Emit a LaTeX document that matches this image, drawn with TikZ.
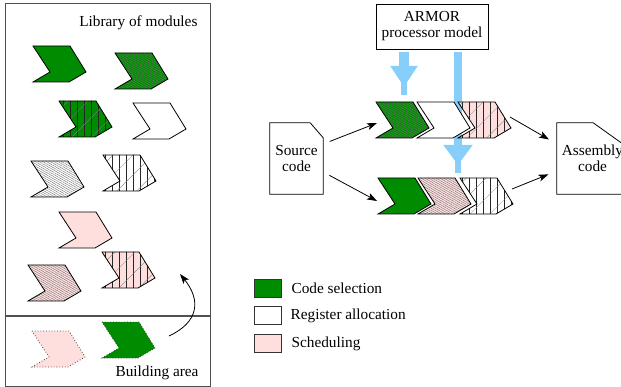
\documentclass[tikz,border=0pt]{standalone}
\usepackage{fontspec}
\setmainfont{Liberation Serif}
\usetikzlibrary{arrows.meta,patterns.meta,positioning}

\definecolor{modgreen}{RGB}{0,140,0}
\definecolor{modpink}{RGB}{255,222,222}
\definecolor{armorblue}{RGB}{135,206,250}
\definecolor{framegray}{RGB}{80,80,80}

\tikzset{
	chevpath/.style={insert path={-- ++(37,0) -- ++(16,26) -- ++(-17,10) -- ++(-36,0) -- ++(17,-10) -- cycle}},
	module/.style={draw=black, line width=0.8pt},
	ghost/.style={draw=black!75, line width=0.8pt, dotted},
	cs/.style={preaction={fill=modgreen}},
	ra/.style={preaction={fill=white}},
	sc/.style={preaction={fill=modpink}},
	fine/.style={preaction={pattern={Lines[angle=-30,distance=1.9pt,line width=0.4pt]}, pattern color=black!55}},
	vert/.style={preaction={pattern={Lines[angle=90,distance=7pt,line width=0.4pt]}, pattern color=black!85},
		preaction={pattern={Lines[angle=45,distance=14pt,line width=0.3pt]}, pattern color=black!50}},
	flow/.style={-{Stealth[length=10pt,width=7pt,inset=2.5pt]}, line width=0.8pt},
	bluestub/.style={draw=armorblue, line width=6pt, shorten <=3pt},
	bluedrop/.style={draw=armorblue, shorten <=3pt},
	box/.style={draw, line width=0.8pt, minimum width=112pt, minimum height=45pt, align=center, inner sep=0pt},
	doc/.style={minimum height=71pt, align=center, inner sep=0pt},
	legbox/.style={draw=black!80, line width=0.8pt, minimum width=27pt, minimum height=18pt, inner sep=0pt},
	frame/.style={draw=framegray, line width=0.8pt}
}

\begin{document}
\begin{tikzpicture}[x=1pt, y=-1pt, font=\fontsize{15.3pt}{16pt}\selectfont]
	\useasboundingbox (0,0) rectangle (621,387);

	% library and building area
	\draw[frame] (5,3) rectangle (210,316);
	\draw[frame] (5,316) rectangle (210,386);
	\draw[framegray, line width=2pt] (5,316) -- (210,316);
	\node[anchor=base east] (libtitle) at (201,27) {Library of modules};
	\node[anchor=base east] (bldtitle) at (202,376) {Building area};

	\draw[module, cs] (33,46) coordinate (l1) [chevpath];
	\draw[module, cs, fine] (115,53) coordinate (l2) [chevpath];
	\draw[module, cs, vert] (59,101) coordinate (l3) [chevpath];
	\draw[module, ra] (133,103) coordinate (l4) [chevpath];
	\draw[module, ra, fine] (31,161) coordinate (l5) [chevpath];
	\draw[module, ra, vert] (103,155) coordinate (l6) [chevpath];
	\draw[module, sc] (59,212) coordinate (l7) [chevpath];
	\draw[module, sc, fine] (28,265) coordinate (l8) [chevpath];
	\draw[module, sc, vert] (102,252) coordinate (l9) [chevpath];

	\draw[ghost, sc] (32,331) coordinate (g1) [chevpath];
	\draw[ghost, cs] (102,322) coordinate (g2) [chevpath];

	\coordinate (pick) at (169,336);
	\coordinate (drop) at (180,274);
	\draw[flow] (pick) .. controls (199,322) and (201,300) .. (drop);

	% processor model
	\node[box] (armor) at (432,26.5) {ARMOR\\processor model};
	\coordinate (drop1) at (404,95);
	\coordinate (drop2) at (458,173);
	\draw[bluestub] (armor.south -| drop1) -- (drop1);
	\draw[bluedrop, line width=10pt, -{Triangle[width=26pt,length=21pt]}, shorten >=8pt] (armor.south -| drop1) -- (drop1);
	\draw[bluestub] (armor.south -| drop2) -- (drop2);
	\draw[bluedrop, line width=8pt, -{Triangle[width=28pt,length=20pt]}, shorten >=8pt] (armor.south -| drop2) -- (drop2);

	% two pipelines
	\draw[module, cs, fine] (376,102) coordinate (t1) [chevpath];
	\draw[module, ra] (417,102) coordinate (t2) [chevpath];
	\draw[module, sc, vert] (458,102) coordinate (t3) [chevpath];
	\draw[module, cs] (378,178) coordinate (b1) [chevpath];
	\draw[module, sc, fine] (418,178) coordinate (b2) [chevpath];
	\draw[module, ra, vert] (460,178) coordinate (b3) [chevpath];

	% documents
	\node[doc, minimum width=53pt] (src) at (296.5,158.5) {Source\\code};
	\node[doc, minimum width=71pt] (asm) at (592.5,158.5) {Assembly\\code};
	\draw[line width=0.8pt] (src.north west) -- ([xshift=-13pt]src.north east) -- ([yshift=-15pt]src.north east) -- (src.south east) -- (src.south west) -- cycle;
	\draw[line width=0.8pt] (asm.north west) -- ([xshift=-35pt]asm.north east) -- ([yshift=-25pt]asm.north east) -- (asm.south east) -- (asm.south west) -- cycle;

	\draw[flow, shorten <=7pt] ([yshift=14.5pt]src.east) -- ([xshift=1pt,yshift=-21pt]t1);
	\draw[flow, shorten <=7pt] ([yshift=-13.5pt]src.east) -- ([xshift=-1pt,yshift=-23pt]b1);
	\draw[flow, shorten >=9pt] ([xshift=52pt,yshift=-15pt]t3) -- ([yshift=14.5pt]asm.west);
	\draw[flow, shorten >=9pt] ([xshift=52pt,yshift=-11pt]b3) -- ([yshift=-12.5pt]asm.west);

	% legend
	\node[legbox, fill=modgreen] (lcs) at (267.5,288) {};
	\node[legbox, fill=white, below=9pt of lcs] (lra) {};
	\node[legbox, fill=modpink, below=9pt of lra] (lsc) {};
	\node[right=10pt of lcs, inner sep=0pt] (tcs) {Code selection};
	\node[right=9pt of lra, inner sep=0pt] (tra) {Register allocation};
	\node[right=10pt of lsc, inner sep=0pt] (tsc) {Scheduling};
\end{tikzpicture}
\end{document}
